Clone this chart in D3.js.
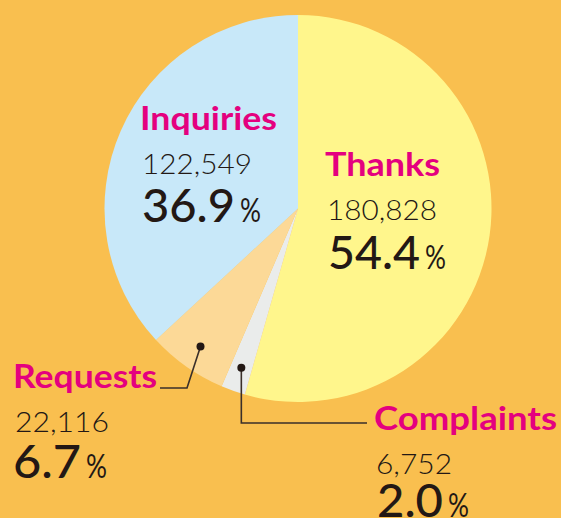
<!DOCTYPE html>
<html>
<head>
<meta charset="utf-8">
<script src="https://cdn.jsdelivr.net/npm/d3@7"></script>
<style>
  html, body { margin: 0; padding: 0; background: #f9bf4f; }
  svg { display: block; }
  text { font-family: Lato, "Open Sans", sans-serif; }
</style>
</head>
<body>
<svg id="chart" width="561" height="518"></svg>
<script>
// data (clockwise from 12 o'clock)
const categories = ["Thanks", "Complaints", "Requests", "Inquiries"];
const counts = [180828, 6752, 22116, 122549];
const percents = ["54.4", "2.0", "6.7", "36.9"];
const colors = ["#fff68c", "#eaeceb", "#fcd997", "#c8e8f9"];

const svg = d3.select("#chart");
const cx = 298, cy = 208.5, radius = 193.5;

const pie = d3.pie().sort(null).value(d => d.count);
const arc = d3.arc().innerRadius(0).outerRadius(radius);
const dotArc = d3.arc().innerRadius(169).outerRadius(169);

const rows = categories.map((c, i) => ({ name: c, count: counts[i], pct: percents[i], color: colors[i] }));
const arcs = pie(rows);

const g = svg.append("g").attr("transform", `translate(${cx},${cy})`);

g.selectAll("path")
  .data(arcs)
  .enter()
  .append("path")
  .attr("d", arc)
  .attr("fill", d => d.data.color);

// label layout: name baseline position and text widths
const layout = {
  Thanks:     { x: 325, y: 176, nameW: 115, countW: 110, pctX: 328, pctY: 269, pctW: 92 },
  Complaints: { x: 374, y: 430, nameW: 183, countW: 76,  pctX: 377, pctY: 517, pctW: 66 },
  Requests:   { x: 13,  y: 388, nameW: 144, countW: 94,  pctX: 13,  pctY: 478, pctW: 68 },
  Inquiries:  { x: 140, y: 130, nameW: 137, countW: 110, pctX: 142, pctY: 222, pctW: 93 }
};

const fmt = d3.format(",");

rows.forEach(r => {
  const L = layout[r.name];
  const t = svg.append("g");
  t.append("text")
    .attr("x", L.x).attr("y", L.y)
    .attr("font-size", 33).attr("font-weight", 700)
    .attr("fill", "#e4007f")
    .attr("textLength", L.nameW).attr("lengthAdjust", "spacingAndGlyphs")
    .text(r.name);
  t.append("text")
    .attr("x", L.x + 2).attr("y", L.y + 44)
    .attr("font-size", 28).attr("font-weight", 300)
    .attr("fill", "#231815")
    .attr("textLength", L.countW).attr("lengthAdjust", "spacingAndGlyphs")
    .text(fmt(r.count));
  t.append("text")
    .attr("x", L.pctX).attr("y", L.pctY)
    .attr("font-size", 46).attr("font-weight", 500)
    .attr("fill", "#231815")
    .attr("textLength", L.pctW).attr("lengthAdjust", "spacingAndGlyphs")
    .text(r.pct);
  t.append("text")
    .attr("x", L.pctX + L.pctW + 5).attr("y", L.pctY)
    .attr("font-size", 33).attr("font-weight", 400)
    .attr("fill", "#231815")
    .attr("textLength", 21).attr("lengthAdjust", "spacingAndGlyphs")
    .text("%");
});

// leader lines
const leaders = {
  Requests:   [[187, 388], [160, 388]],
  Complaints: [[243, 423], [367, 423]]
};

arcs.filter(d => leaders[d.data.name]).forEach(d => {
  const [dx, dy] = dotArc.centroid(d);
  const start = [cx + dx, cy + dy];
  const pts = d.data.name === "Complaints"
    ? [start, [start[0], leaders.Complaints[0][1]], leaders.Complaints[1]]
    : [start, ...leaders.Requests];
  svg.append("path")
    .attr("d", d3.line()(pts))
    .attr("fill", "none")
    .attr("stroke", "#3a2f2a")
    .attr("stroke-width", 1.6);
  svg.append("circle")
    .attr("cx", start[0]).attr("cy", start[1])
    .attr("r", 4)
    .attr("fill", "#231815");
});
</script>
</body>
</html>
